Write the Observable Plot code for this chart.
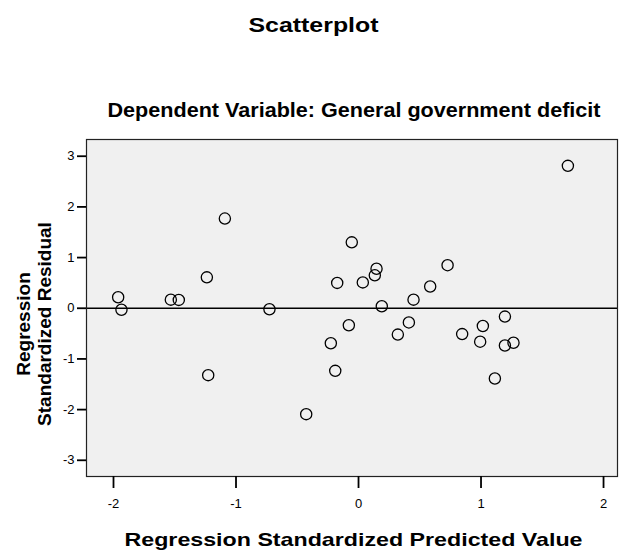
<!DOCTYPE html>
<html>
<head>
<meta charset="utf-8">
<script src="https://cdn.jsdelivr.net/npm/d3@7"></script>
<script src="https://cdn.jsdelivr.net/npm/@observablehq/plot@0.6"></script>
<style>
  html, body { margin: 0; padding: 0; background: #fff; }
  #chart svg { display: block; font-family: "Liberation Sans", Arial, sans-serif; }
</style>
</head>
<body>
<div id="chart"></div>
<script>
// ---- Data ----
const predicted = [-1.962, -1.935, -1.532, -1.467, -1.238, -1.091, -0.727, -1.227, -0.427, 1.709,
  -0.055, -0.174, 0.035, 0.147, 0.133, 0.19, 0.449, 0.585, 0.727, -0.079,
  -0.226, -0.19, 0.321, 0.411, 0.846, 1.015, 0.993, 1.195, 1.195, 1.265, 1.113];
const residual = [0.217, -0.03, 0.17, 0.165, 0.61, 1.77, -0.02, -1.32, -2.09, 2.81,
  1.30, 0.50, 0.51, 0.78, 0.65, 0.04, 0.17, 0.43, 0.85, -0.335,
  -0.69, -1.235, -0.52, -0.28, -0.51, -0.35, -0.66, -0.165, -0.735, -0.68, -1.387];
const xTicks = [-2, -1, 0, 1, 2];
const yTicks = [-3, -2, -1, 0, 1, 2, 3];
const titleText = "Scatterplot";
const subtitleText = "Dependent Variable: General government deficit";
const xLabel = "Regression Standardized Predicted Value";
const yLabel = "Regression\nStandardized Residual";

const points = predicted.map((p, i) => ({ p, r: residual[i] }));

const font = "Liberation Sans, Arial, sans-serif";

const chart = Plot.plot({
  width: 619,
  height: 550,
  marginLeft: 86,
  marginRight: 2,
  marginTop: 139,
  marginBottom: 74,
  style: { fontFamily: font, background: "#fff", overflow: "visible" },
  x: { domain: [-2.2204, 2.114] },
  y: { domain: [-3.32, 3.33] },
  marks: [
    Plot.frame({ fill: "#f0f0f0" }),
    Plot.ruleY([0], { stroke: "#000", strokeWidth: 1.6 }),
    Plot.dot(points, { x: "p", y: "r", r: 5.6, stroke: "#000", strokeWidth: 1.3, fill: "none" }),
    Plot.frame({ stroke: "#222", strokeWidth: 1.2 }),
    Plot.axisX({ ticks: xTicks, tickSize: 12, tickPadding: 10, stroke: "#000", strokeWidth: 1.8, strokeOpacity: 1, fill: "#000", fontSize: 13, label: null, tickFormat: d => String(d).replace("−", "-") }),
    Plot.axisY({ ticks: yTicks, tickSize: 9, tickPadding: 3, stroke: "#000", strokeWidth: 1.8, strokeOpacity: 1, fill: "#000", fontSize: 13, label: null, tickFormat: d => String(d).replace("−", "-") }),
    Plot.text([titleText], { frameAnchor: "top", dx: -38.5, dy: -114, lineAnchor: "middle", text: d => d, fontSize: 20, fontWeight: "bold", fill: "#000" }),
    Plot.text([subtitleText], { frameAnchor: "top", dx: 2, dy: -29, lineAnchor: "middle", text: d => d, fontSize: 20, fontWeight: "bold", fill: "#000" }),
    Plot.text([xLabel], { frameAnchor: "bottom", dx: 1.5, dy: 63, lineAnchor: "middle", text: d => d, fontSize: 19, fontWeight: "bold", fill: "#000" }),
    Plot.text([yLabel], { frameAnchor: "left", textAnchor: "middle", dx: -53, dy: 16, rotate: -90, lineAnchor: "middle", lineHeight: 1.15, text: d => d, fontSize: 19, fontWeight: "bold", fill: "#000" })
  ]
});

document.getElementById("chart").appendChild(chart);

// stretch the horizontal titles to the widths seen in the reference
const widths = { [titleText]: 130, [subtitleText]: 493, [xLabel]: 458 };
d3.select(chart).selectAll("text").each(function () {
  const t = this.textContent;
  if (widths[t]) {
    d3.select(this).attr("textLength", widths[t]).attr("lengthAdjust", "spacingAndGlyphs");
  }
});
</script>
</body>
</html>
